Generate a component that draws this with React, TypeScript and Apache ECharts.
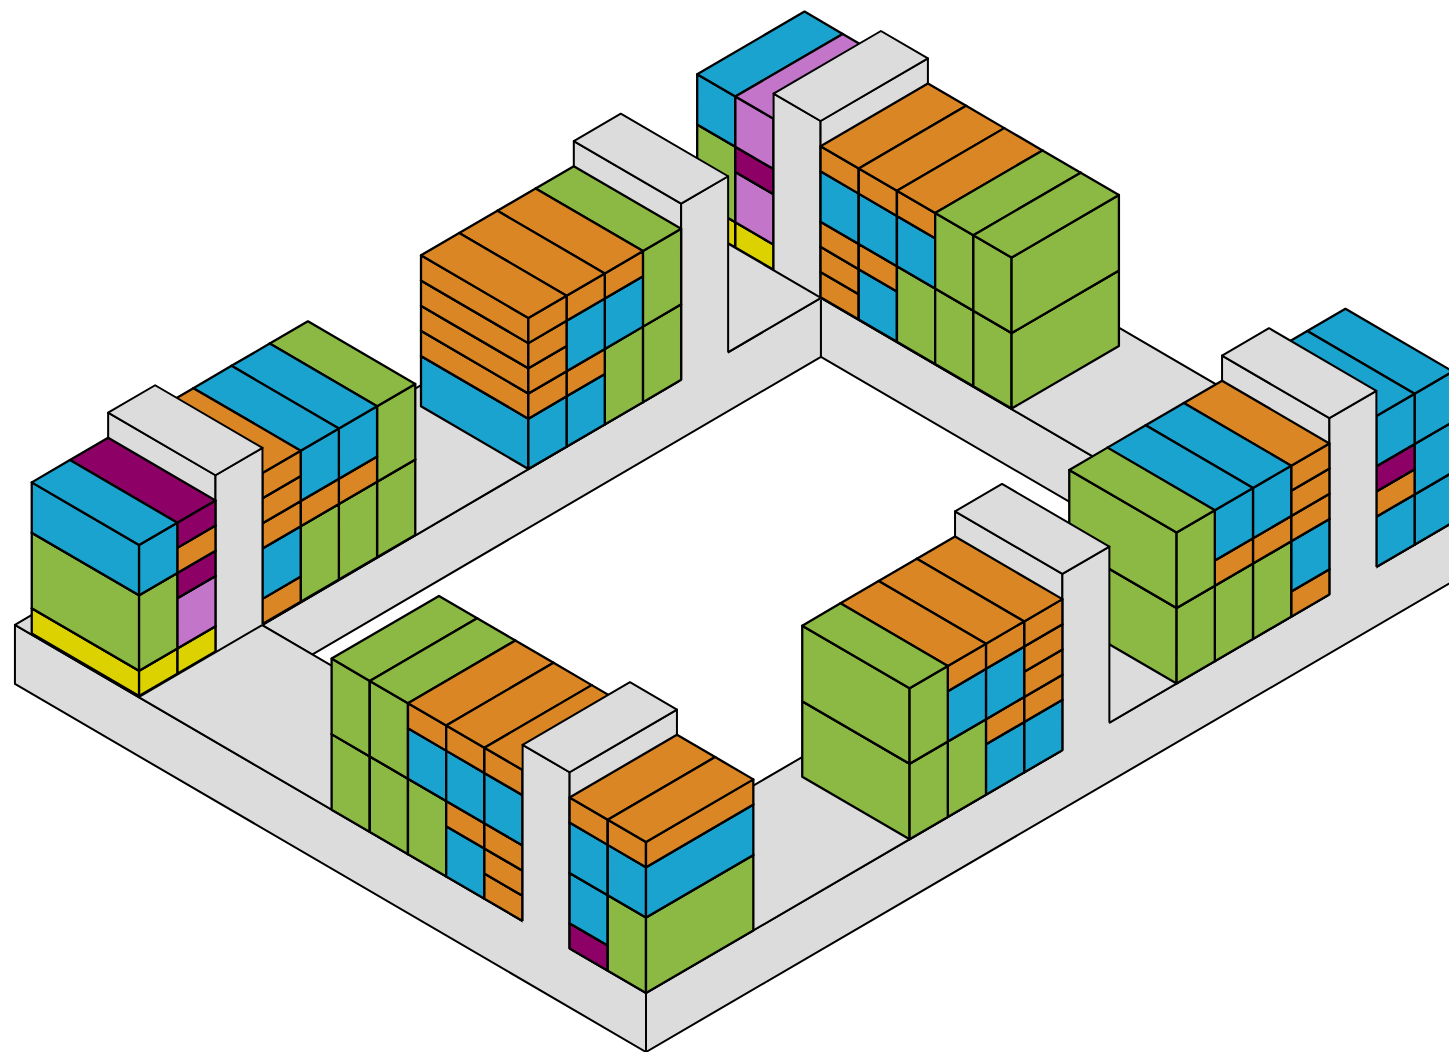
import React, { useEffect, useRef } from "react";
import * as echarts from "echarts";

// ---- colours of the stacked blocks ----
const COLORS: Record<string, string> = {
  G: "#8cb943",
  B: "#1aa3ce",
  O: "#db8625",
  P: "#8d0066",
  L: "#c275c9",
  Y: "#dcd200",
  S: "#dcdcdc",
};

type Seg = [number, string];
const PILLAR = "pillar";

// ---- stacks, bottom to top, [height units, colour], in order along each run ----
const backLeftNear: (Seg[] | string)[] = [
  [[1, "Y"], [3, "G"], [2, "B"]],
  [[1, "Y"], [2, "L"], [1, "P"], [1, "O"], [1, "P"]],
  PILLAR,
  [[1, "O"], [2, "B"], [1, "O"], [1, "O"], [1, "O"]],
  [[3, "G"], [1, "O"], [2, "B"]],
  [[3, "G"], [1, "O"], [2, "B"]],
  [[3, "G"], [3, "G"]],
];
const backLeftFar: (Seg[] | string)[] = [
  [[2, "B"], [1, "O"], [1, "O"], [1, "O"], [1, "O"]],
  [[2, "B"], [1, "O"], [2, "B"], [1, "O"]],
  [[3, "G"], [2, "B"], [1, "O"]],
  [[3, "G"], [3, "G"]],
  PILLAR,
];
const backRight: (Seg[] | string)[] = [
  [[3, "G"], [3, "G"]],
  [[3, "G"], [3, "G"]],
  [[3, "G"], [2, "B"], [1, "O"]],
  [[2, "B"], [1, "O"], [2, "B"], [1, "O"]],
  [[1, "O"], [1, "O"], [1, "O"], [2, "B"], [1, "O"]],
  PILLAR,
  [[1, "Y"], [2, "L"], [1, "P"], [2, "L"]],
  [[1, "Y"], [3, "G"], [2, "B"]],
];
const frontLeft: (Seg[] | string)[] = [
  [[3, "G"], [2, "B"], [1, "O"]],
  [[1, "P"], [2, "B"], [2, "B"], [1, "O"]],
  PILLAR,
  [[1, "O"], [1, "O"], [1, "O"], [2, "B"], [1, "O"]],
  [[2, "B"], [1, "O"], [2, "B"], [1, "O"]],
  [[3, "G"], [2, "B"], [1, "O"]],
  [[3, "G"], [3, "G"]],
  [[3, "G"], [3, "G"]],
];
const frontRightNear: (Seg[] | string)[] = [
  [[3, "G"], [3, "G"]],
  [[3, "G"], [2, "B"], [1, "O"]],
  [[2, "B"], [1, "O"], [2, "B"], [1, "O"]],
  [[2, "B"], [1, "O"], [1, "O"], [1, "O"], [1, "O"]],
  PILLAR,
];
const frontRightFar: (Seg[] | string)[] = [
  [[3, "G"], [3, "G"]],
  [[3, "G"], [1, "O"], [2, "B"]],
  [[3, "G"], [1, "O"], [2, "B"]],
  [[1, "O"], [2, "B"], [1, "O"], [1, "O"], [1, "O"]],
  PILLAR,
  [[2, "B"], [1, "O"], [1, "P"], [2, "B"]],
  [[2, "B"], [2, "B"], [2, "B"]],
];

// ---- isometric projection onto the pixel-ranged axes ----
const WIDTH = 1449;
const HEIGHT = 1052;
const ORIGIN = [646, 993];
const STEP_X = 38.2;
const STEP_Y = 22.28;
const UNIT_H = 25.17;
const DEPTH = 2.81;
const PILLAR_W = 1.23;
const PILLAR_H = 7;
const SLAB = -2.344;
const BOX_LINE = 2.3;
const DECK_LINE = 2;

const project = (a: number, b: number, h: number) => [
  ORIGIN[0] + STEP_X * (b - a),
  ORIGIN[1] - STEP_Y * (a + b) - UNIT_H * h,
];

type P3 = [number, number, number];
const skirtLeft: P3[] = [[16.52, 0, 0], [0, 0, 0], [0, 0, SLAB], [16.52, 0, SLAB]];
const skirtRight: P3[] = [[0, 0, 0], [0, 21.5, 0], [0, 21.5, SLAB], [0, 0, SLAB]];
const wallLeft: P3[] = [[13.31, 17.89, 0], [13.31, 17.89, SLAB], [13.29, 4.55, SLAB], [13.28, 3.23, 0]];
const wallRight: P3[] = [[13.31, 17.89, 0], [13.31, 17.89, SLAB], [4.57, 17.89, SLAB], [3.25, 17.89, 0]];
const deckBackRight: P3[] = [[16.63, 17.89, 0], [16.63, 21.12, 0], [3.25, 21.12, 0], [3.25, 17.89, 0]];
const deckBackLeft: P3[] = [[16.52, 0, 0], [13.28, 0, 0], [13.28, 3.23, 0], [13.31, 17.89, 0], [16.63, 17.89, 0]];
const deckFront: P3[] = [[13.28, 0, 0], [13.28, 3.23, 0], [3.25, 3.23, 0], [3.25, 21.5, 0], [0, 21.5, 0], [0, 0, 0]];

type Mark =
  | { kind: "poly"; pts: P3[] }
  | { kind: "box" | "pillar"; a0: number; a1: number; b0: number; b1: number; h0: number; h1: number; color: string };

function group(run: "a" | "b", start: number, cross: number, stacks: (Seg[] | string)[]): Mark[] {
  const cols: Mark[][] = [];
  let pos = start;
  for (const s of stacks) {
    const w = s === PILLAR ? PILLAR_W : 1;
    const fp =
      run === "b"
        ? { a0: cross, a1: cross + DEPTH, b0: pos, b1: pos + w }
        : { a0: pos, a1: pos + w, b0: cross, b1: cross + DEPTH };
    const col: Mark[] = [];
    if (s === PILLAR) {
      col.push({ kind: "pillar", ...fp, h0: 0, h1: PILLAR_H, color: "S" });
    } else {
      let h = 0;
      for (const [dh, color] of s as Seg[]) {
        col.push({ kind: "box", ...fp, h0: h, h1: h + dh, color });
        h += dh;
      }
    }
    cols.push(col);
    pos += w;
  }
  return cols.reverse().flat();
}

const poly = (pts: P3[]): Mark => ({ kind: "poly", pts });

const marks: Mark[] = [
  poly(skirtLeft),
  poly(skirtRight),
  poly(wallLeft),
  poly(wallRight),
  poly(deckBackRight),
  ...group("a", 8.33, 17.9, backRight),
  poly(deckBackLeft),
  ...group("b", 10.22, 13.3, backLeftFar),
  ...group("b", 0.03, 13.3, backLeftNear),
  poly(deckFront),
  ...group("b", 13.89, 0, frontRightFar),
  ...group("b", 6.9, 0, frontRightNear),
  ...group("a", 0, 0, frontLeft),
];

const LINE = "#000000";

export default function App() {
  const ref = useRef<HTMLDivElement>(null);
  useEffect(() => {
    document.body.style.margin = "0";
    const chart = echarts.init(ref.current!, undefined, { renderer: "svg" });

    const renderItem = (params: any, api: any) => {
      const m = marks[params.dataIndex];
      const pt = (a: number, b: number, h: number) => api.coord(project(a, b, h));
      if (m.kind === "poly") {
        return {
          type: "polygon",
          shape: { points: m.pts.map((p) => pt(p[0], p[1], p[2])) },
          style: { fill: COLORS.S, stroke: LINE, lineWidth: DECK_LINE, lineJoin: "round" },
        };
      }
      const { a0, a1, b0, b1, h0, h1 } = m;
      const fill = COLORS[m.color];
      const top = [pt(a0, b0, h1), pt(a1, b0, h1), pt(a1, b1, h1), pt(a0, b1, h1)];
      const left = [pt(a1, b0, h0), pt(a0, b0, h0), pt(a0, b0, h1), pt(a1, b0, h1)];
      const right = [pt(a0, b0, h0), pt(a0, b1, h0), pt(a0, b1, h1), pt(a0, b0, h1)];
      if (m.kind === "box") {
        const style = { fill, stroke: LINE, lineWidth: BOX_LINE, lineJoin: "round" };
        return {
          type: "group",
          children: [left, right, top].map((points) => ({ type: "polygon", shape: { points }, style })),
        };
      }
      // pillars have no base edge: the fill runs a little below the foot so it merges with the deck
      const foot = h0 - 0.1;
      const leftFill = [pt(a1, b0, foot), pt(a0, b0, foot), left[2], left[3]];
      const rightFill = [pt(a0, b0, foot), pt(a0, b1, foot), right[2], right[3]];
      const line = { fill: null, stroke: LINE, lineWidth: DECK_LINE, lineJoin: "round" };
      const children: any[] = [];
      for (const [f, fillPts] of [[left, leftFill], [right, rightFill]] as any[]) {
        children.push({ type: "polygon", shape: { points: fillPts }, style: { fill, stroke: null } });
        children.push({ type: "polyline", shape: { points: [f[0], f[3], f[2], f[1]] }, style: line });
      }
      children.push({
        type: "polygon",
        shape: { points: top },
        style: { fill, stroke: LINE, lineWidth: DECK_LINE, lineJoin: "round" },
      });
      return { type: "group", children };
    };

    chart.setOption({
      animation: false,
      backgroundColor: "#ffffff",
      grid: { left: 0, right: 0, top: 0, bottom: 0 },
      xAxis: { type: "value", min: 0, max: WIDTH, show: false },
      yAxis: { type: "value", min: 0, max: HEIGHT, inverse: true, show: false },
      series: [
        {
          type: "custom",
          silent: true,
          clip: false,
          coordinateSystem: "cartesian2d",
          renderItem,
          encode: { x: 0, y: 1 },
          data: marks.map((_, i) => [i, i]),
        },
      ],
    });
    return () => chart.dispose();
  }, []);
  return <div ref={ref} style={{ position: "absolute", left: 0, top: 0, width: WIDTH, height: HEIGHT }} />;
}
